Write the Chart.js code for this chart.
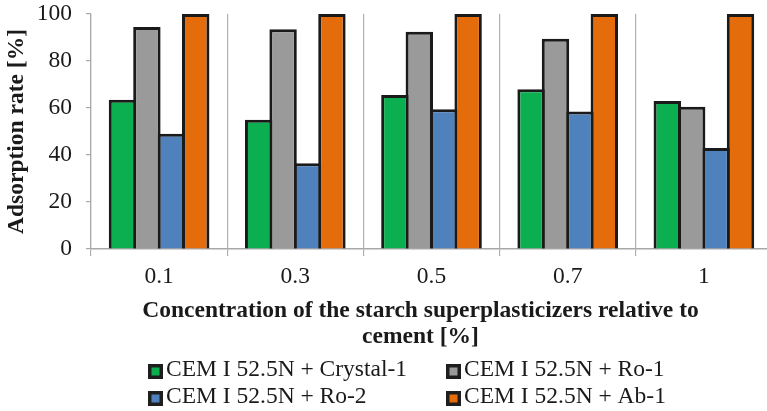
<!DOCTYPE html>
<html>
<head>
<meta charset="utf-8">
<script src="https://cdn.jsdelivr.net/npm/chart.js@4.4.1/dist/chart.umd.min.js"></script>
<style>
html,body{margin:0;padding:0;overflow:hidden;background:#fff;width:767px;height:411px;}
canvas{display:block;}
</style>
</head>
<body>
<canvas id="c" width="775" height="411"></canvas>
<script>
const categories = ['0.1', '0.3', '0.5', '0.7', '1'];
const crystal1 = [63.5, 55, 65.5, 68, 63];
const ro1 = [94.5, 93.5, 92.5, 89.5, 60.5];
const ro2 = [49, 36.5, 59.5, 58.5, 43];
const ab1 = [100, 100, 100, 100, 100];
const seriesNames = ['CEM I 52.5N + Crystal-1', 'CEM I 52.5N + Ro-1', 'CEM I 52.5N + Ro-2', 'CEM I 52.5N + Ab-1'];
const seriesColors = ['#0BAF4F', '#9A9A9A', '#4F81BD', '#E46C0A'];
const xTitleLines = ['Concentration of the starch superplasticizers relative to', 'cement [%]'];
const yTitle = 'Adsorption rate [%]';

const FONT = '"Liberation Serif", "Times New Roman", serif';
const TEXT = '#1a1a1a';

const customText = {
  id: 'customText',
  afterDraw(chart) {
    const ctx = chart.ctx;
    ctx.save();
    ctx.fillStyle = TEXT;
    ctx.font = 'bold 23.5px ' + FONT;
    ctx.textAlign = 'center';
    ctx.textBaseline = 'alphabetic';
    ctx.fillText(xTitleLines[0], 420.5, 317);
    ctx.fillText(xTitleLines[1], 420.5, 343);
    // legend
    ctx.font = '23.5px ' + FONT;
    ctx.textAlign = 'left';
    const cols = [148, 446];
    const rows = [376, 403];
    seriesNames.forEach((name, i) => {
      const cx = cols[i % 2];
      const by = rows[Math.floor(i / 2)];
      const top = by - 12;
      ctx.fillStyle = '#1e1e1e';
      ctx.fillRect(cx, top, 15, 15);
      ctx.fillStyle = seriesColors[i];
      ctx.fillRect(cx + 3.5, top + 3.5, 8, 8);
      ctx.fillStyle = TEXT;
      ctx.fillText(name, cx + 18, by);
    });
    ctx.restore();
  }
};

const seriesData = [crystal1, ro1, ro2, ab1];
const datasets = seriesData.map((d, i) => ({
  label: seriesNames[i],
  data: d,
  backgroundColor: seriesColors[i],
  borderColor: '#1a1a1a',
  borderWidth: 3,
  borderSkipped: 'start',
  categoryPercentage: 0.717,
  barPercentage: 1.123
}));

new Chart(document.getElementById('c'), {
  type: 'bar',
  data: { labels: categories, datasets },
  plugins: [customText],
  options: {
    responsive: false,
    animation: false,
    devicePixelRatio: 1,
    layout: { padding: { top: 14, right: 3, left: 0, bottom: 0 } },
    plugins: { legend: { display: false }, tooltip: { enabled: false } },
    scales: {
      x: {
        offset: true,
        grid: { offset: true, color: '#b0b0b0', lineWidth: 1.2, drawOnChartArea: true, drawTicks: true, tickLength: 7 },
        border: { display: true, color: '#a8a8a8', width: 1.5 },
        ticks: { color: TEXT, font: { family: FONT, size: 23.5 }, padding: 7 },
        afterFit(scale) { scale.height = 162; }
      },
      y: {
        min: 0, max: 100,
        ticks: { stepSize: 20, color: TEXT, font: { family: FONT, size: 23.5 }, padding: 14 },
        grid: { drawOnChartArea: false, drawTicks: true, tickLength: 5, color: '#a8a8a8', lineWidth: 1.2 },
        border: { display: true, color: '#a8a8a8', width: 1.2 },
        title: { display: true, text: yTitle, color: TEXT, font: { family: FONT, size: 23.5, weight: 'bold' }, padding: { top: 3, bottom: 0 } },
        afterFit(scale) { scale.width = 91; scale.paddingTop = 0; scale.paddingBottom = 0; }
      }
    }
  }
});
</script>
</body>
</html>
